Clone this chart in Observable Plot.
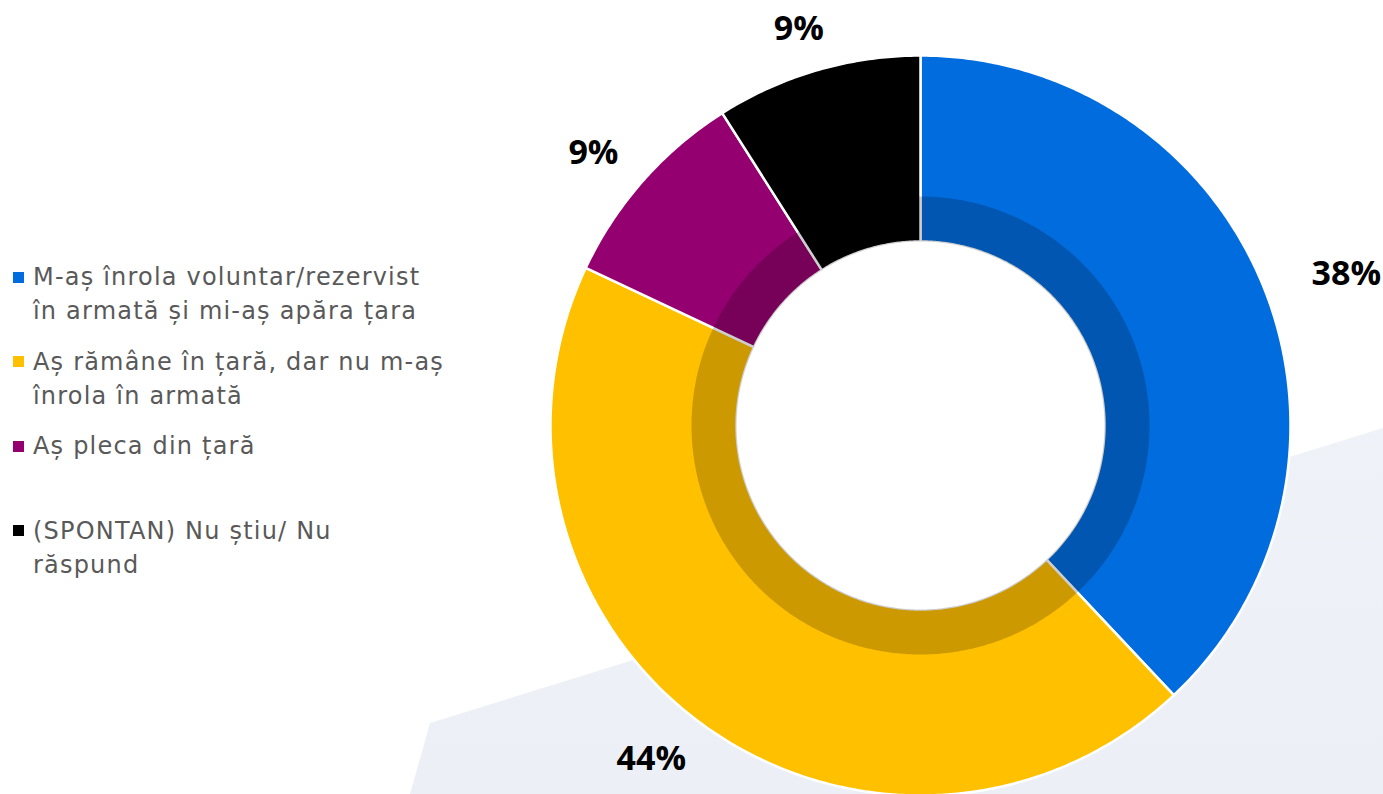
<!DOCTYPE html>
<html><head><meta charset="utf-8">
<script src="https://cdn.jsdelivr.net/npm/d3@7"></script>
<script src="https://cdn.jsdelivr.net/npm/@observablehq/plot@0.6"></script>
<style>
html,body{margin:0;padding:0;background:#fff;}
#wrap{position:relative;width:1383px;height:794px;overflow:hidden;}
#bg{position:absolute;left:0;top:0;width:1383px;height:794px;background:linear-gradient(180deg,#f2f4f9,#ecf0f6);clip-path:polygon(410px 794px,430px 723px,1383px 428px,1383px 794px);}
#chart{position:absolute;left:0;top:0;}
#legend{position:absolute;left:0;top:260px;font-family:"DejaVu Sans",sans-serif;font-size:24px;letter-spacing:1.2px;color:#595959;}
.item{position:relative;height:84.5px;padding-left:33px;line-height:34px;white-space:pre;}
.sw{position:absolute;left:13px;top:11.5px;width:11px;height:11px;}
</style></head><body>
<div id="wrap"><div id="bg"></div><div id="chart"></div><div id="legend"></div></div>
<script>
const categories = [
  "M-aș înrola voluntar/rezervist\nîn armată și mi-aș apăra țara",
  "Aș rămâne în țară, dar nu m-aș\nînrola în armată",
  "Aș pleca din țară",
  "(SPONTAN) Nu știu/ Nu\nrăspund"
];
const values = [38, 44, 9, 9];
const valueLabels = ["38%", "44%", "9%", "9%"];
const colors = ["#006CDE", "#FFC000", "#950070", "#000000"];

const W = 1383, H = 794, cx = 920, cy = 425, R = 370;
const rInner = 184 / R, rBand = 229 / R, rOuter = 1;
const total = d3.sum(values);
let acc = 0;
const slices = values.map((v, i) => {
  const a0 = acc / total * 2 * Math.PI; acc += v;
  const a1 = acc / total * 2 * Math.PI;
  return {i, a0, a1, color: colors[i], label: valueLabels[i]};
});
function ring(a0, a1, r0, r1, key, color) {
  const n = Math.max(2, Math.ceil((a1 - a0) / (Math.PI / 360)));
  const pts = [];
  for (let k = 0; k <= n; k++) { const a = a0 + (a1 - a0) * k / n; pts.push({key, color, x: r1 * Math.sin(a), y: r1 * Math.cos(a)}); }
  for (let k = n; k >= 0; k--) { const a = a0 + (a1 - a0) * k / n; pts.push({key, color, x: r0 * Math.sin(a), y: r0 * Math.cos(a)}); }
  pts.push(pts[0]);
  return pts;
}
const holePts = ring(0, 2 * Math.PI, 0, rInner, "hole", "white");
const slicePts = slices.flatMap(s => ring(s.a0, s.a1, rInner, rOuter, "s" + s.i, s.color));
const bandPts = slices.flatMap(s => ring(s.a0, s.a1, rInner, rBand, "b" + s.i, s.color));
const labelData = slices.map(s => {
  const m = (s.a0 + s.a1) / 2;
  const px = cx + 392 * Math.sin(m), py = cy - 392 * Math.cos(m);
  const w = 22 * s.label.length, h = 34;
  const lx = px + w * Math.sin(m), ly = py - 0.6 * h * Math.cos(m);
  return {label: s.label, x: (lx - cx) / R, y: (cy - ly) / R};
});

const chart = Plot.plot({
  width: W, height: H, margin: 0,
  x: {domain: [-cx / R, (W - cx) / R], axis: null},
  y: {domain: [-(H - cy) / R, cy / R], axis: null},
  color: {type: "identity"},
  style: {background: "transparent", overflow: "visible"},
  marks: [
    Plot.line(holePts, {x: "x", y: "y", fill: "white", stroke: "none"}),
    Plot.line(slicePts, {x: "x", y: "y", z: "key", fill: "color", stroke: "white", strokeWidth: 2.5, strokeLinejoin: "round"}),
    Plot.line(bandPts, {x: "x", y: "y", z: "key", fill: "black", fillOpacity: 0.2, stroke: "none"}),
    Plot.text(labelData, {x: "x", y: "y", text: "label", fontSize: 34, fontWeight: "bold", fontFamily: "'Open Sans', sans-serif", fill: "black", textAnchor: "middle", lineAnchor: "middle"})
  ]
});
document.getElementById("chart").appendChild(chart);

const legend = document.getElementById("legend");
categories.forEach((c, i) => {
  const it = document.createElement("div"); it.className = "item";
  const sw = document.createElement("div"); sw.className = "sw"; sw.style.background = colors[i];
  it.appendChild(sw);
  it.appendChild(document.createTextNode(c));
  legend.appendChild(it);
});
</script>
</body></html>
